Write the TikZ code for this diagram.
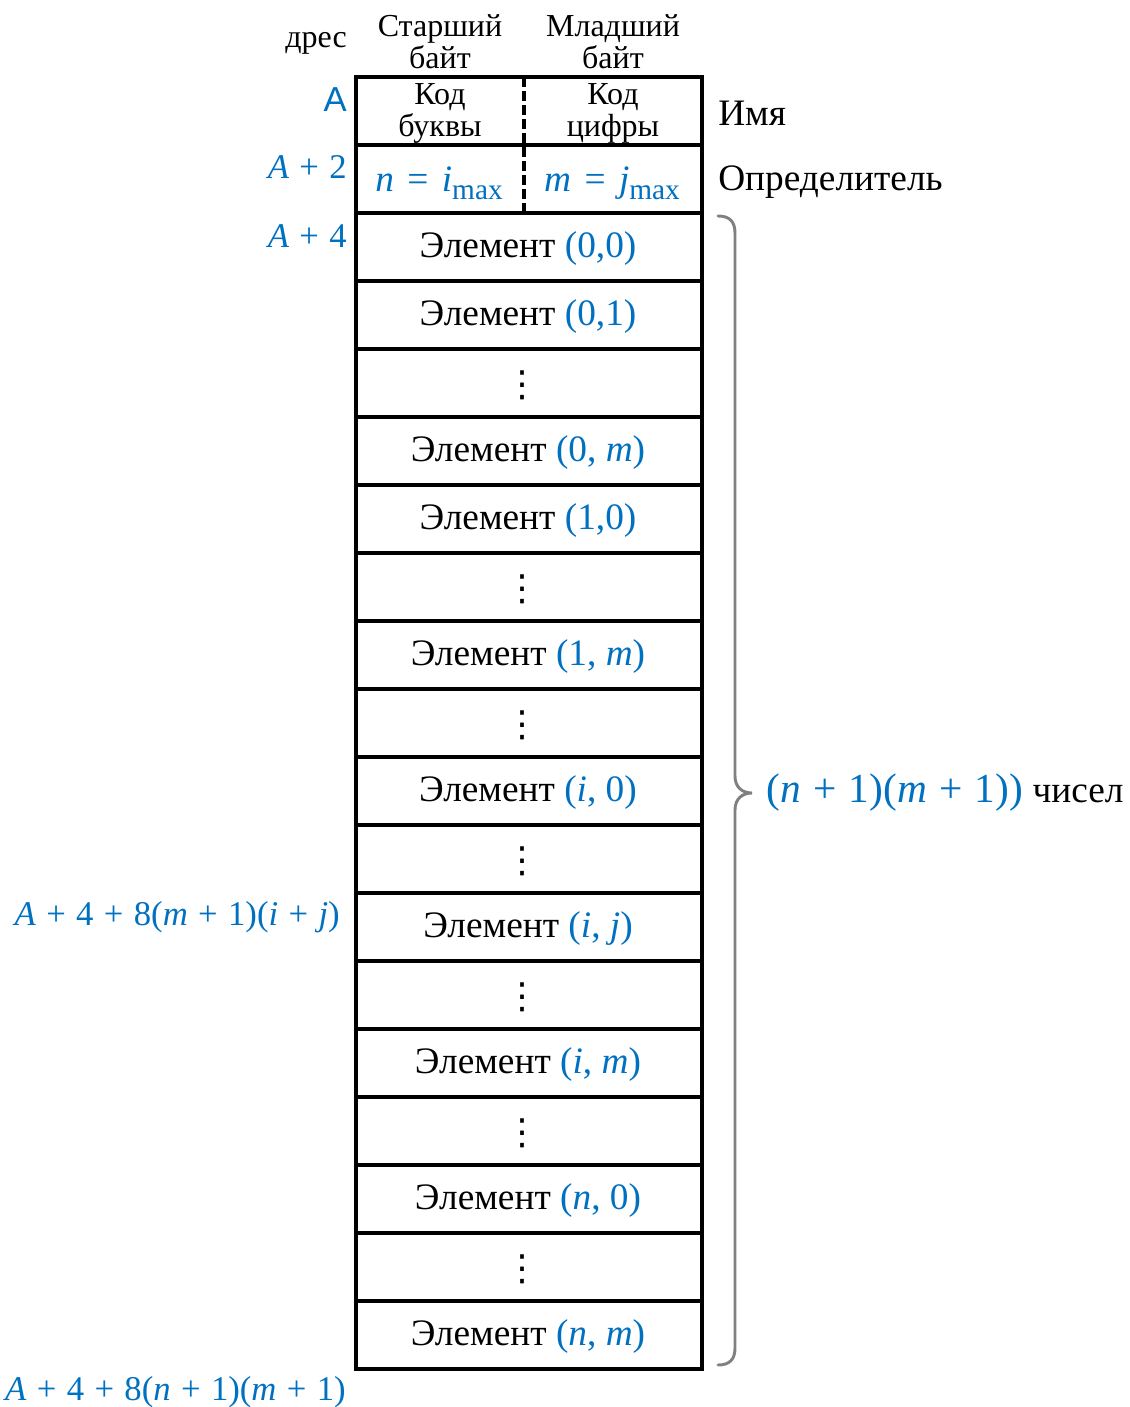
\documentclass[tikz,border=0pt]{standalone}
\usepackage{fontspec}
\setmainfont{Liberation Serif}
\newfontfamily\lsans{Liberation Sans}
\newfontfamily\dejavu{DejaVu Sans}
\usetikzlibrary{calc}
\definecolor{addr}{HTML}{0070C0}
\definecolor{bracegray}{HTML}{808080}

\tikzset{
  rowbox/.style={draw, line width=2.6pt, minimum width=259.5pt, minimum height=51pt,
                 inner sep=0pt, outer sep=0pt},
  celltext/.style={font=\fontsize{28}{30}\selectfont, inner sep=0pt},
  headtext/.style={font=\fontsize{24}{24}\selectfont, align=center, inner sep=0pt},
  sidetext/.style={font=\fontsize{28}{30}\selectfont, inner sep=0pt},
  addrtext/.style={font=\fontsize{26}{28}\selectfont, text=addr, inner sep=0pt, anchor=east},
  divider/.style={line width=3.6pt, dash pattern=on 7.5pt off 3pt},
  bracestyle/.style={draw=bracegray, line width=2.2pt, line cap=round},
}
% formula pieces set with the text font
\newcommand{\vi}[1]{\textit{#1}}
\newcommand{\pl}{\hspace{0.3em}+\hspace{0.3em}}
\newcommand{\eqs}{\hspace{0.36em}=\hspace{0.36em}}
\newcommand{\sbmax}{\raisebox{-0.22em}{\fontsize{22}{22}\selectfont max}}
\newcommand{\el}[1]{Элемент \textcolor{addr}{#1}}
\newcommand{\vdts}{{\dejavu\fontsize{27}{27}\selectfont ⋮}}

\begin{document}
\begin{tikzpicture}[x=0.75pt, y=-0.75pt]
\useasboundingbox (0,0) rectangle (1129,1407);

% column headings
\node[headtext] (hOld) at (440,42) {Старший\\байт};
\node[headtext] (hYoung) at (613,42) {Младший\\байт};
\node[headtext, anchor=east] (hAddr) at (347,43) {дрес};

% header rows
\node[rowbox] (h1) at (529,111) {};
\node[rowbox] (h2) at (529,179) {};
\draw[divider] ($(h1.north west)+(168,0)$) coordinate (dTop) -- ($(h2.south west)+(168,0)$) coordinate (dBot);

\node[headtext] (cLet) at (440,113) {Код\\буквы};
\node[headtext] (cDig) at (613,113) {Код\\цифры};
\node[celltext, text=addr] (nmax) at (439,183) {\vi{n}\eqs\vi{i}\sbmax};
\node[celltext, text=addr] (mmax) at (612,183) {\vi{m}\eqs\vi{j}\sbmax};

% element rows: index / content / horizontal centre of the content
\foreach \k/\txt/\xc in {0/{\el{(0,0)}}/528, 1/{\el{(0,1)}}/528, 2/{\vdts}/522,
                     3/{\el{(0, \vi{m})}}/528, 4/{\el{(1,0)}}/528, 5/{\vdts}/522,
                     6/{\el{(1, \vi{m})}}/528, 7/{\vdts}/522, 8/{\el{(\vi{i}, 0)}}/528,
                     9/{\vdts}/522, 10/{\el{(\vi{i}, \vi{j})}}/528, 11/{\vdts}/522,
                     12/{\el{(\vi{i}, \vi{m})}}/528, 13/{\vdts}/522, 14/{\el{(\vi{n}, 0)}}/528,
                     15/{\vdts}/522, 16/{\el{(\vi{n}, \vi{m})}}/528}{
  \node[rowbox] (r\k) at (529,{247+68*\k}) {};
  \node[celltext] (t\k) at (\xc,{249+68*\k}) {\txt};
}

% addresses
\node[addrtext, font=\lsans\fontsize{26}{28}\selectfont] (aA) at (347,100) {A};
\node[addrtext] (aA2) at (347,167) {\vi{A}\pl2};
\node[addrtext] (aA4) at (347,236) {\vi{A}\pl4};
\node[addrtext] (aIJ) at (340,917) {\vi{A}\pl4\pl8(\vi{m}\pl1)(\vi{i}\pl\vi{j})};
\node[addrtext] (aEnd) at (346,1392) {\vi{A}\pl4\pl8(\vi{n}\pl1)(\vi{m}\pl1)};

% right-hand labels
\node[sidetext, anchor=west] (lName) at (718,113) {Имя};
\node[sidetext, anchor=west] (lDet) at (718,182) {Определитель};

% brace over the elements
\coordinate (bTop) at (718,216);
\coordinate (bTip) at (752,793);
\coordinate (bBot) at (718,1365);
\draw[bracestyle] (bTop) .. controls (730,216) and (735,222) .. (735,233)
  -- (735,776) .. controls (735,787) and (742,793) .. (bTip)
  .. controls (742,793) and (735,799) .. (735,810)
  -- (735,1348) .. controls (735,1359) and (730,1365) .. (bBot);
\node[sidetext, anchor=west] (lCount) at (766,793)
  {\textcolor{addr}{\fontsize{31}{32}\selectfont(\vi{n}\pl1)(\vi{m}\pl1))} чисел};
\end{tikzpicture}
\end{document}
